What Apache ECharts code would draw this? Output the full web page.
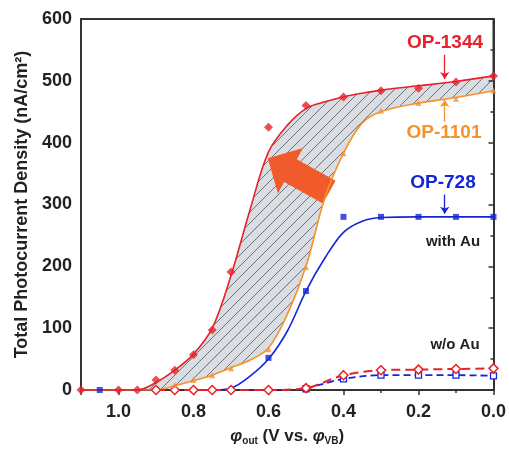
<!DOCTYPE html>
<html>
<head>
<meta charset="utf-8">
<script src="https://cdn.jsdelivr.net/npm/echarts@6/dist/echarts.min.js"></script>
<style>
html,body{margin:0;padding:0;background:#fff;}
#chart{width:509px;height:454px;}
</style>
</head>
<body>
<div id="chart"></div>
<script>
// ---- data ----
// fitted curves (sampled along the drawn curves)
var fitX      = [1.1, 1.0, 0.95, 0.9, 0.85, 0.8, 0.75, 0.7, 0.65, 0.6, 0.55, 0.5, 0.45, 0.4, 0.35, 0.3, 0.2, 0.1, 0.0];
var fitOP1344 = [0,   0,   0,    12,  32,   58,  100,  185, 290,  385, 428,  455, 466,  474, 480,  485, 492, 499, 508];
var fitOP1101 = [0,   0,   0,    0,   7,    15,  24,   36,  48,   68,  122,  200, 310,  383, 432,  450, 464, 473, 484];
var fitBlueX  = [0.75, 0.7, 0.65, 0.6, 0.55, 0.5, 0.45, 0.4, 0.35, 0.3, 0.2, 0.1, 0.0];
var fitOP728  = [0,    3,   22,   50,  95,   160, 213,  255, 273,  279, 280, 280, 280];

// measured points (with Au)
var ptsOP1344X = [1.1, 1.0, 0.95, 0.9, 0.85, 0.8, 0.75, 0.7, 0.6, 0.5, 0.4, 0.3, 0.2, 0.1, 0.0];
var ptsOP1344Y = [0,   0,   0,    16,  32,   57,  97,   191, 425, 460, 474, 484, 488, 498, 508];
var ptsOP1101X = [0.85, 0.8, 0.75, 0.7, 0.6, 0.5, 0.4, 0.3, 0.2, 0.1, 0.0];
var ptsOP1101Y = [8,    16,  24,   35,  66,  199, 383, 452, 464, 471, 484];
var ptsOP728X  = [1.05, 0.6, 0.5, 0.4, 0.3, 0.2, 0.1, 0.0];
var ptsOP728Y  = [0,    52,  160, 280, 280, 280, 280, 280];

// w/o Au
var woRedX  = [0.9, 0.85, 0.8, 0.75, 0.7, 0.6, 0.5, 0.4, 0.3, 0.2, 0.1, 0.0];
var woRedY  = [0,   0,    0,   0,    0,   0,   3,   24,  32,  33,  34,  35];
var woBlueX = [0.5, 0.4, 0.3, 0.2, 0.1, 0.0];
var woBlueY = [2,   18,  24,  24,  24,  23];

// axis ticks
var yTicks = [0, 100, 200, 300, 400, 500, 600];
var xTickLabels = ['0.0', '0.2', '0.4', '0.6', '0.8', '1.0'];

// annotations
var bigArrow = [[0.602, 375, 0.438, 320]]; // tip x,y ; tail x,y
var labelArrowX = 0.13;
var arrow1344 = [542, 503];
var arrow1101 = [434, 469];
var arrow728  = [316, 285];

// ---- helpers ----
function zip(xs, ys) { return xs.map(function (x, i) { return [x, ys[i]]; }); }

var RED = '#e8212b', ORANGE = '#f5922a', BLUE = '#1426d6';

var T = 11;
var tile = document.createElement('canvas');
tile.width = T; tile.height = T;
var g = tile.getContext('2d');
g.fillStyle = '#d9dde1';
g.fillRect(0, 0, T, T);
g.strokeStyle = '#6a7178';
g.lineWidth = 1;
g.beginPath();
g.moveTo(-1, T + 1); g.lineTo(T + 1, -1);
g.moveTo(-1, 1); g.lineTo(1, -1);
g.moveTo(T - 1, T + 1); g.lineTo(T + 1, T - 1);
g.stroke();

var SMOOTH = 0.35;
var FONT = 'Arial, "Liberation Sans", sans-serif';

function annArrow(vals, color) {
  return {
    silent: true,
    symbol: ['none', 'arrow'],
    symbolSize: 7,
    label: { show: false },
    lineStyle: { color: color, width: 1.3, type: 'solid' },
    emphasis: { disabled: true },
    data: [[{ coord: [labelArrowX, vals[0]] }, { coord: [labelArrowX, vals[1]] }]]
  };
}

var axisCommon = {
  z: 3,
  axisLine: { show: true, lineStyle: { color: '#333', width: 2 } },
  axisTick: { show: true, length: 5, lineStyle: { color: '#333', width: 1.5 } },
  minorTick: { show: true, splitNumber: 2, length: 3, lineStyle: { color: '#333', width: 1.5 } },
  splitLine: { show: false }
};

var chart = echarts.init(document.getElementById('chart'), null, { renderer: 'canvas' });
chart.setOption({
  animation: false,
  backgroundColor: '#fff',
  grid: { left: 81, right: 15, top: 19, bottom: 64, show: true, borderColor: '#333', borderWidth: 2, containLabel: false },
  xAxis: Object.assign({}, axisCommon, {
    type: 'value', inverse: true, min: 0, max: 1.1, interval: 0.2,
    name: '{phi|φ}{sub|out}{t| (V vs. }{phi|φ}{sub|VB}{t|)}',
    nameLocation: 'middle', nameGap: 36,
    nameTextStyle: {
      rich: {
        phi: { fontFamily: FONT, fontSize: 17, fontWeight: 'bold', fontStyle: 'italic', color: '#222' },
        sub: { fontFamily: FONT, fontSize: 10, fontWeight: 'bold', color: '#222', padding: [10, 0, 0, 0] },
        t: { fontFamily: FONT, fontSize: 17, fontWeight: 'bold', color: '#222' }
      }
    },
    axisLabel: {
      margin: 13, color: '#222', fontFamily: FONT, fontSize: 18, fontWeight: 'bold',
      showMaxLabel: false,
      formatter: function (v) {
        var s = v.toFixed(1);
        return xTickLabels.indexOf(s) >= 0 ? s : '';
      }
    }
  }),
  yAxis: Object.assign({}, axisCommon, {
    type: 'value', min: yTicks[0], max: yTicks[yTicks.length - 1], interval: 100,
    name: 'Total Photocurrent Density (nA/cm²)',
    nameLocation: 'middle', nameGap: 47, nameRotate: 90,
    nameTextStyle: { fontFamily: FONT, fontSize: 18, fontWeight: 'bold', color: '#222' },
    axisLabel: { margin: 9, color: '#222', fontFamily: FONT, fontSize: 18, fontWeight: 'bold' }
  }),
  series: [
    // hatched band: area under OP-1344 fit, masked below the OP-1101 fit
    {
      type: 'line', smooth: SMOOTH, symbol: 'none', silent: true,
      lineStyle: { opacity: 0 },
      areaStyle: { color: { image: tile, repeat: 'repeat' }, opacity: 1 },
      data: zip(fitX, fitOP1344), z: 1
    },
    {
      type: 'line', smooth: SMOOTH, symbol: 'none', silent: true,
      lineStyle: { opacity: 0 },
      areaStyle: { color: '#ffffff', opacity: 1 },
      data: zip(fitX, fitOP1101), z: 2
    },
    // big arrow
    {
      type: 'custom', silent: true, z: 3,
      renderItem: function (params, api) {
        var tip = api.coord([api.value(0), api.value(1)]);
        var tail = api.coord([api.value(2), api.value(3)]);
        var dx = tip[0] - tail[0], dy = tip[1] - tail[1];
        var L = Math.sqrt(dx * dx + dy * dy);
        var ux = dx / L, uy = dy / L, nx = -uy, ny = ux;
        var hw = 13, hh = 26, hl = 26;
        var nk = [tip[0] - ux * hl, tip[1] - uy * hl];
        var pts = [
          [tail[0] + nx * hw, tail[1] + ny * hw],
          [nk[0] + nx * hw, nk[1] + ny * hw],
          [nk[0] + nx * hh, nk[1] + ny * hh],
          tip,
          [nk[0] - nx * hh, nk[1] - ny * hh],
          [nk[0] - nx * hw, nk[1] - ny * hw],
          [tail[0] - nx * hw, tail[1] - ny * hw]
        ];
        return { type: 'polygon', shape: { points: pts }, style: { fill: '#f15b2c' } };
      },
      data: bigArrow
    },
    // fitted curves
    { type: 'line', smooth: SMOOTH, symbol: 'none', data: zip(fitX, fitOP1101), lineStyle: { color: ORANGE, width: 1.6 }, z: 4 },
    { type: 'line', smooth: SMOOTH, symbol: 'none', data: zip(fitBlueX, fitOP728), lineStyle: { color: BLUE, width: 1.6 }, z: 4 },
    { type: 'line', smooth: SMOOTH, symbol: 'none', data: zip(fitX, fitOP1344), lineStyle: { color: RED, width: 1.6 }, z: 5 },
    // w/o Au dashed
    {
      type: 'line', smooth: 0.3, data: zip(woBlueX, woBlueY), symbol: 'rect', symbolSize: 6,
      itemStyle: { color: '#fff', borderColor: BLUE, borderWidth: 1.3 },
      lineStyle: { color: BLUE, width: 1.8, type: [7, 4] }, z: 5
    },
    {
      type: 'line', smooth: 0.3, data: zip(woRedX, woRedY), symbol: 'diamond', symbolSize: 9,
      itemStyle: { color: '#fff', borderColor: RED, borderWidth: 1.5 },
      lineStyle: { color: RED, width: 2, type: [9, 5] }, z: 6
    },
    // measured points
    {
      type: 'scatter', data: zip(ptsOP1101X, ptsOP1101Y), symbol: 'triangle', symbolSize: 6,
      itemStyle: { color: ORANGE }, z: 7, markLine: annArrow(arrow1101, ORANGE)
    },
    {
      type: 'scatter', data: zip(ptsOP728X, ptsOP728Y), symbol: 'rect', symbolSize: 6,
      itemStyle: { color: BLUE }, z: 7, markLine: annArrow(arrow728, BLUE)
    },
    {
      type: 'scatter', data: zip(ptsOP1344X, ptsOP1344Y), symbol: 'diamond', symbolSize: 9,
      itemStyle: { color: RED }, z: 8, markLine: annArrow(arrow1344, RED)
    }
  ],
  graphic: [
    { type: 'text', x: 445, y: 43, z: 10, style: { text: 'OP-1344', fill: RED, font: 'bold 19px ' + FONT, align: 'center', verticalAlign: 'middle' } },
    { type: 'text', x: 444, y: 133, z: 10, style: { text: 'OP-1101', fill: ORANGE, font: 'bold 19px ' + FONT, align: 'center', verticalAlign: 'middle' } },
    { type: 'text', x: 443, y: 183, z: 10, style: { text: 'OP-728', fill: BLUE, font: 'bold 19px ' + FONT, align: 'center', verticalAlign: 'middle' } },
    { type: 'text', x: 453, y: 242, z: 10, style: { text: 'with Au', fill: '#222', font: 'bold 15px ' + FONT, align: 'center', verticalAlign: 'middle' } },
    { type: 'text', x: 455, y: 345, z: 10, style: { text: 'w/o Au', fill: '#222', font: 'bold 15px ' + FONT, align: 'center', verticalAlign: 'middle' } }
  ]
});
</script>
</body>
</html>
